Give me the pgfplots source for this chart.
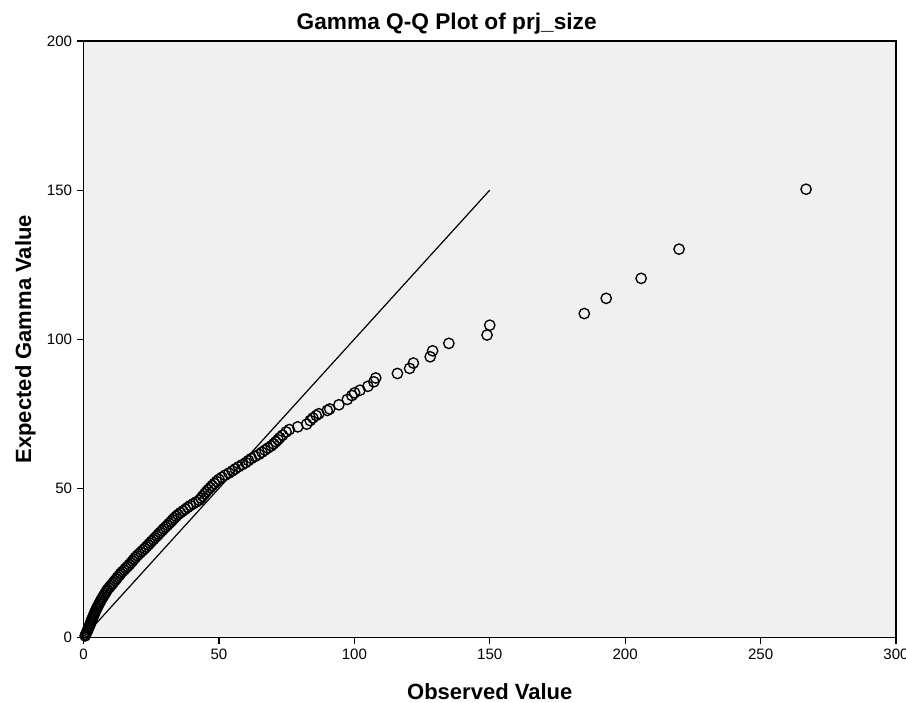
\documentclass[border=0pt]{standalone}
\usepackage{pgfplots}
\pgfplotsset{compat=1.18}
\usepackage{fontspec}
\setmainfont{Liberation Sans}
\definecolor{plotbg}{RGB}{240,240,240}
\begin{document}
\begin{tikzpicture}
\begin{axis}[
  scale only axis,
  width=609pt, height=447pt,
  xmin=0, xmax=300, ymin=0, ymax=200,
  xtick={0,50,100,150,200,250,300},
  ytick={0,50,100,150,200},
  tick align=outside,
  xtick pos=left, ytick pos=left,
  major tick length=5pt,
  axis line style={black, line width=0.9pt},
  every tick/.style={black, line width=0.9pt},
  axis background/.style={fill=plotbg},
  /pgf/number format/assume math mode=true,
  tick label style={font=\fontsize{11.3}{13}\selectfont},
  title={Gamma Q-Q Plot of prj\_size},
  title style={font=\fontsize{17}{20}\selectfont\bfseries, at={(axis description cs:0.447,1.016)}, anchor=center},
  xlabel={Observed Value},
  xlabel style={font=\fontsize{16.5}{20}\selectfont\bfseries, at={(axis description cs:0.5,-0.0906)}, anchor=center},
  ylabel={Expected Gamma Value},
  ylabel style={font=\fontsize{16.5}{20}\selectfont\bfseries, at={(axis description cs:-0.0714,0.5)}, anchor=center},
  clip=false,
]
\addplot[black, line width=0.9pt] coordinates {(1,1) (150,150)};
\addplot[only marks, mark=o, mark size=3.9pt, mark options={black, line width=1pt}] coordinates {
(0.6,0.5) (0.8,1.0) (1.1,1.5) (1.3,2.0) (1.6,2.5) (1.8,3.0) (2.0,3.5) (2.3,4.0) (2.5,4.5) (2.7,5.0)
(2.9,5.5) (3.1,6.0) (3.3,6.5) (3.6,7.0) (3.8,7.5) (4.0,8.0) (4.3,8.5) (4.5,9.0) (4.8,9.5) (5.0,10.0)
(5.4,10.6) (5.7,11.2) (6.1,11.8) (6.4,12.4) (6.8,13.0) (7.2,13.6) (7.6,14.2) (8.0,14.8) (8.4,15.4) (8.8,16.0)
(9.4,16.6) (9.9,17.2) (10.5,17.8) (11.0,18.4) (11.6,19.0) (12.1,19.6) (12.6,20.2) (13.2,20.8) (13.7,21.4) (14.3,22.0)
(15.0,22.6) (15.6,23.2) (16.3,23.8) (16.9,24.4) (17.5,25.0) (18.1,25.6) (18.6,26.2) (19.2,26.8) (19.8,27.4) (20.5,28.0)
(21.2,28.6) (21.9,29.2) (22.6,29.8) (23.2,30.4) (23.9,31.0) (24.5,31.6) (25.1,32.2) (25.8,32.8) (26.4,33.4) (27.1,34.0)
(27.7,34.6) (28.3,35.2) (29.0,35.8) (29.6,36.4) (30.3,37.0) (31.0,37.6) (31.6,38.2) (32.3,38.8) (32.9,39.4) (33.5,40.0)
(34.2,40.6) (34.9,41.2) (35.8,41.8) (36.7,42.4) (37.6,43.0) (38.5,43.6) (39.4,44.2) (40.5,44.8) (41.6,45.4) (42.7,46.0)
(43.4,46.7) (44.0,47.4) (44.7,48.1) (45.3,48.8) (46.0,49.5) (46.8,50.2) (47.5,50.9) (48.3,51.6) (49.1,52.3) (50.0,53.0)
(51.1,53.7) (52.3,54.4) (53.7,55.1) (54.9,55.8) (56.0,56.5) (57.2,57.2) (58.6,57.9) (59.9,58.6) (60.9,59.3) (62.0,60.0)
(63.4,60.7) (64.8,61.4) (65.9,62.1) (67.0,62.8) (68.1,63.5) (69.3,64.2) (70.2,64.9) (71.0,65.6) (71.8,66.3) (72.5,67.0)
(73.5,67.8) (74.8,68.9) (76.0,69.7) (79.1,70.6) (82.4,71.5) (83.7,72.7) (84.7,73.6) (85.9,74.4) (86.9,75.0) (90.0,76.1)
(90.9,76.6) (94.3,78.0) (97.4,79.8) (99.1,81.1) (100.1,82.0) (102.1,82.9) (105.0,84.2) (107.2,85.7) (107.9,87.0) (115.9,88.5)
(120.4,90.2) (121.8,92.0) (128.0,94.1) (128.9,96.1) (134.9,98.6) (149.0,101.4) (150.0,104.7) (184.9,108.6) (193.0,113.7) (205.9,120.4)
(219.9,130.2) (266.8,150.3)
};
\end{axis}
\pgfresetboundingbox
\useasboundingbox ([shift={(-62.6pt,-48.75pt)}]current axis.south west) rectangle ([shift={(7.5pt,30.75pt)}]current axis.north east);
\end{tikzpicture}
\end{document}
